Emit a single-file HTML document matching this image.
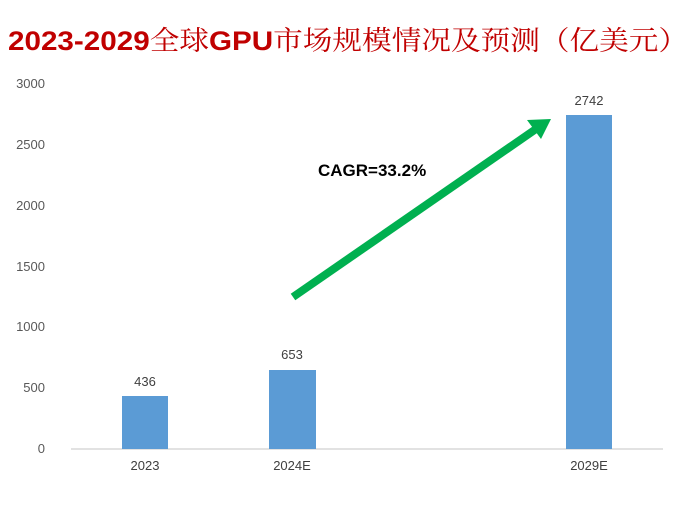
<!DOCTYPE html>
<html><head><meta charset="utf-8"><style>
body{margin:0;background:#fff;width:696px;height:502px;overflow:hidden}
</style></head><body>
<svg width="696" height="502" xmlns="http://www.w3.org/2000/svg">
<text x="348" y="50" text-anchor="middle" fill="#c00000" font-size="27" font-weight="bold" font-family="Liberation Sans, Noto Serif CJK SC, serif" textLength="680" lengthAdjust="spacingAndGlyphs">2023-2029<tspan font-family="Noto Serif CJK SC, serif" font-weight="normal">全球</tspan>GPU<tspan font-family="Noto Serif CJK SC, serif" font-weight="normal">市场规模情况及预测（亿美元）</tspan></text>
<g font-family="Liberation Sans, sans-serif" font-size="13" fill="#595959" text-anchor="end">
<text x="45" y="88">3000</text>
<text x="45" y="149">2500</text>
<text x="45" y="210">2000</text>
<text x="45" y="271">1500</text>
<text x="45" y="331">1000</text>
<text x="45" y="392">500</text>
<text x="45" y="453">0</text>
</g>
<line x1="71" y1="449" x2="663" y2="449" stroke="#d9d9d9" stroke-width="1.5"/>
<rect x="122" y="396" width="46" height="53" fill="#5b9bd5"/>
<rect x="269" y="370" width="47" height="79" fill="#5b9bd5"/>
<rect x="566" y="115" width="46" height="334" fill="#5b9bd5"/>
<g font-family="Liberation Sans, sans-serif" font-size="13" fill="#404040" text-anchor="middle">
<text x="145" y="386">436</text>
<text x="292" y="359">653</text>
<text x="589" y="105">2742</text>
<text x="145" y="470">2023</text>
<text x="292" y="470">2024E</text>
<text x="589" y="470">2029E</text>
</g>
<line x1="293" y1="297" x2="536" y2="129" stroke="#00b050" stroke-width="8"/>
<polygon points="551,119 527,120 541,139" fill="#00b050"/>
<text x="318" y="176" font-family="Liberation Sans, sans-serif" font-size="17" font-weight="bold" fill="#000">CAGR=33.2%</text>
</svg>
</body></html>
